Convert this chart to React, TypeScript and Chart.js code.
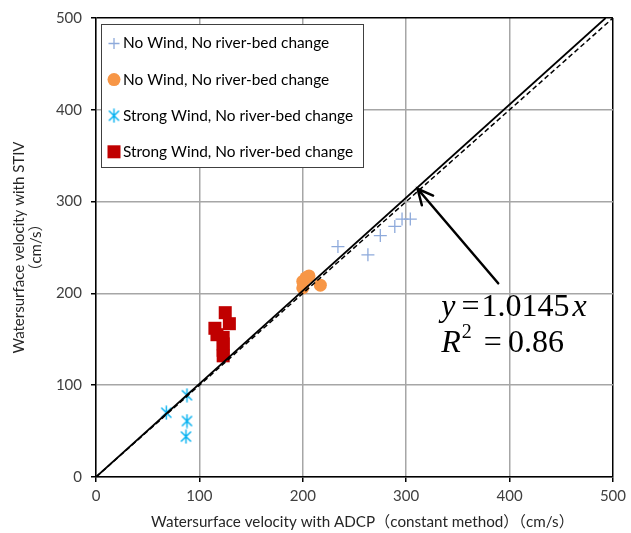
import React, { useEffect, useRef } from 'react';
import { Chart, registerables } from 'chart.js';
Chart.register(...registerables);

// ---- data ----
const plusX = [234, 263, 275, 289, 296, 304];
const plusY = [251, 242, 263, 273, 281, 281];
const circleX = [203, 206, 200, 200, 217];
const circleY = [217, 219, 213, 206, 209];
const starX = [88, 68, 88, 87];
const starY = [89, 70, 61, 44];
const squareX = [125, 129, 115, 117, 123, 123, 123, 123];
const squareY = [179, 167, 162, 155, 152, 145, 138, 132];
const fitX = [0, 492.9];
const fitY = [0, 500];
const refX = [0, 500];
const refY = [0, 500];
const arrowFrom = [389, 211];
const arrowTo = [311, 314];
const eqPos = [334, 175];
const r2Pos = [334, 136];
const tickValues = [0, 100, 200, 300, 400, 500];
const legendLabels = [
  'No Wind, No river-bed change',
  'No Wind, No river-bed change',
  'Strong Wind, No river-bed change',
  'Strong Wind, No river-bed change',
];
const xTitle = 'Watersurface velocity with ADCP（constant method）（cm/s）';
const yTitle = ['Watersurface velocity with STIV', '（cm/s）'];

const FONT = 'Lato, "Noto Sans CJK JP", sans-serif';
const PLUS_C = '#8EAADB';
const CIRC_C = '#F79646';
const STAR_C = '#00B0F0';
const SQ_C = '#C00000';

const zip = (xs: number[], ys: number[]) => xs.map((x, i) => ({ x, y: ys[i] }));

function makeStar(size: number, color: string) {
  const c = document.createElement('canvas');
  c.width = size;
  c.height = size;
  const g = c.getContext('2d')!;
  g.strokeStyle = color;
  g.lineWidth = 1.4;
  const m = size / 2;
  const r = size / 2 - 0.5;
  const d = r * 0.72;
  g.beginPath();
  g.moveTo(m, m - r);
  g.lineTo(m, m + r);
  g.moveTo(m - d, m - d);
  g.lineTo(m + d, m + d);
  g.moveTo(m + d, m - d);
  g.lineTo(m - d, m + d);
  g.stroke();
  return c;
}

function drawMarker(ctx: CanvasRenderingContext2D, kind: number, x: number, y: number, star: HTMLCanvasElement) {
  ctx.save();
  if (kind === 0) {
    ctx.strokeStyle = PLUS_C;
    ctx.lineWidth = 1.3;
    ctx.beginPath();
    ctx.moveTo(x - 5.5, y);
    ctx.lineTo(x + 5.5, y);
    ctx.moveTo(x, y - 5.5);
    ctx.lineTo(x, y + 5.5);
    ctx.stroke();
  } else if (kind === 1) {
    ctx.fillStyle = CIRC_C;
    ctx.beginPath();
    ctx.arc(x, y, 6.5, 0, Math.PI * 2);
    ctx.fill();
  } else if (kind === 2) {
    ctx.drawImage(star, x - star.width / 2, y - star.height / 2);
  } else {
    ctx.fillStyle = SQ_C;
    ctx.fillRect(x - 6.5, y - 6.5, 13, 13);
  }
  ctx.restore();
}

export default function App() {
  const ref = useRef<HTMLCanvasElement>(null);
  useEffect(() => {
    const star = makeStar(15, STAR_C);
    const overlay = {
      id: 'overlay',
      afterDatasetsDraw(chart: any) {
        const ctx: CanvasRenderingContext2D = chart.ctx;
        const xs = chart.scales.x;
        const ys = chart.scales.y;
        // arrow
        const x1 = xs.getPixelForValue(arrowFrom[0]);
        const y1 = ys.getPixelForValue(arrowFrom[1]);
        const x2 = xs.getPixelForValue(arrowTo[0]);
        const y2 = ys.getPixelForValue(arrowTo[1]);
        ctx.save();
        ctx.strokeStyle = '#000';
        ctx.lineWidth = 2.5;
        ctx.lineCap = 'round';
        ctx.beginPath();
        ctx.moveTo(x1, y1);
        ctx.lineTo(x2, y2);
        const ang = Math.atan2(y1 - y2, x1 - x2);
        const hl = 17;
        const spread = 0.45;
        ctx.moveTo(x2 + hl * Math.cos(ang - spread), y2 + hl * Math.sin(ang - spread));
        ctx.lineTo(x2, y2);
        ctx.lineTo(x2 + hl * Math.cos(ang + spread), y2 + hl * Math.sin(ang + spread));
        ctx.stroke();
        ctx.restore();

        // equation text
        ctx.save();
        ctx.fillStyle = '#000';
        ctx.textBaseline = 'alphabetic';
        ctx.textAlign = 'left';
        const it = 'italic 32px "Liberation Serif", serif';
        const rg = '32px "Liberation Serif", serif';
        let ex = xs.getPixelForValue(eqPos[0]);
        const ey = ys.getPixelForValue(eqPos[1]);
        ctx.font = it;
        ctx.fillText('y', ex, ey);
        ex += ctx.measureText('y').width + 6;
        ctx.font = rg;
        ctx.fillText('=', ex, ey);
        ex += ctx.measureText('=').width + 2;
        ctx.fillText('1.0145', ex, ey);
        ex += ctx.measureText('1.0145').width + 3;
        ctx.font = it;
        ctx.fillText('x', ex, ey);

        let rx = xs.getPixelForValue(r2Pos[0]);
        const ry = ys.getPixelForValue(r2Pos[1]);
        ctx.font = it;
        ctx.fillText('R', rx, ry);
        rx += ctx.measureText('R').width + 1;
        ctx.font = '20px "Liberation Serif", serif';
        ctx.fillText('2', rx, ry - 14);
        rx += ctx.measureText('2').width + 12;
        ctx.font = rg;
        ctx.fillText('=', rx, ry);
        rx += ctx.measureText('=').width + 6;
        ctx.fillText('0.86', rx, ry);
        ctx.restore();

        // legend
        const lx = 101, ly = 24, lw = 262, lh = 143;
        ctx.save();
        ctx.fillStyle = '#fff';
        ctx.fillRect(lx, ly, lw, lh);
        ctx.strokeStyle = '#404040';
        ctx.lineWidth = 1;
        ctx.strokeRect(lx + 0.5, ly + 0.5, lw, lh);
        ctx.font = '15.4px ' + FONT;
        ctx.fillStyle = '#000';
        ctx.textBaseline = 'middle';
        legendLabels.forEach((t, i) => {
          const cy = 43.5 + i * 36.1;
          drawMarker(ctx, i, 114, cy, star);
          ctx.fillText(t, 123, cy);
        });
        ctx.restore();

        // x-axis title (drawn here to match the reference's horizontal offset)
        ctx.save();
        ctx.font = '15.2px ' + FONT;
        ctx.fillStyle = '#262626';
        ctx.textAlign = 'center';
        ctx.textBaseline = 'middle';
        ctx.fillText(xTitle, (xs.left + xs.right) / 2 + 8, 522);
        ctx.restore();
      },
    };

    const gridColor = (c: any) => (c.tick && c.tick.value === 500 ? '#000' : '#A6A6A6');
    const tickFont = { family: FONT, size: 15 };
    const chart = new Chart(ref.current!, {
      type: 'scatter',
      data: {
        datasets: [
          {
            label: 'fit',
            type: 'line',
            data: zip(fitX, fitY),
            borderColor: '#000',
            borderWidth: 1.8,
            pointRadius: 0,
            showLine: true,
            order: 0,
          } as any,
          {
            label: 'ref',
            type: 'line',
            data: zip(refX, refY),
            borderColor: '#000',
            borderWidth: 1.5,
            borderDash: [5, 3],
            pointRadius: 0,
            showLine: true,
            order: 0,
          } as any,
          {
            label: legendLabels[0],
            data: zip(plusX, plusY),
            pointStyle: 'cross',
            pointRadius: 6.5,
            borderColor: PLUS_C,
            borderWidth: 1.3,
            order: 1,
          },
          {
            label: legendLabels[1],
            data: zip(circleX, circleY),
            pointStyle: 'circle',
            pointRadius: 6.5,
            backgroundColor: CIRC_C,
            borderColor: CIRC_C,
            borderWidth: 0,
            order: 1,
          },
          {
            label: legendLabels[2],
            data: zip(starX, starY),
            pointStyle: star,
            order: 1,
          },
          {
            label: legendLabels[3],
            data: zip(squareX, squareY),
            pointStyle: 'rect',
            pointRadius: 9.2,
            backgroundColor: SQ_C,
            borderColor: SQ_C,
            borderWidth: 0,
            order: 1,
          },
        ],
      },
      options: {
        responsive: false,
        animation: false,
        events: [],
        layout: { padding: { top: 15, right: 16, left: 0, bottom: 0 } },
        plugins: { legend: { display: false }, tooltip: { enabled: false } },
        scales: {
          x: {
            type: 'linear',
            min: 0,
            max: 500,
            afterBuildTicks: (s: any) => {
              s.ticks = tickValues.map((v) => ({ value: v }));
            },
            ticks: { font: tickFont, color: '#404040', padding: 5, maxRotation: 0 },
            grid: { color: gridColor, lineWidth: 1.5, tickLength: 5, tickColor: '#000', tickWidth: 1.5 },
            border: { color: '#000', width: 1.5 },
            title: { display: false },
            afterFit: (s: any) => {
              s.height = 56;
            },
          },
          y: {
            type: 'linear',
            min: 0,
            max: 500,
            afterBuildTicks: (s: any) => {
              s.ticks = tickValues.map((v) => ({ value: v }));
            },
            ticks: { font: tickFont, color: '#404040', padding: 9 },
            grid: { color: gridColor, lineWidth: 1.5, tickLength: 5, tickColor: '#000', tickWidth: 1.5 },
            border: { color: '#000', width: 1.5 },
            title: { display: true, text: yTitle, font: { family: FONT, size: 15, lineHeight: 1.12 }, color: '#262626', padding: { top: 11, bottom: 0 } },
            afterFit: (s: any) => {
              s.width = 96;
            },
          },
        },
      },
      plugins: [overlay],
    });
    return () => chart.destroy();
  }, []);
  return (
    <div style={{ position: 'absolute', left: 0, top: 0, width: 631, height: 533, background: '#fff' }}>
      <canvas ref={ref} width={631} height={533} />
    </div>
  );
}
